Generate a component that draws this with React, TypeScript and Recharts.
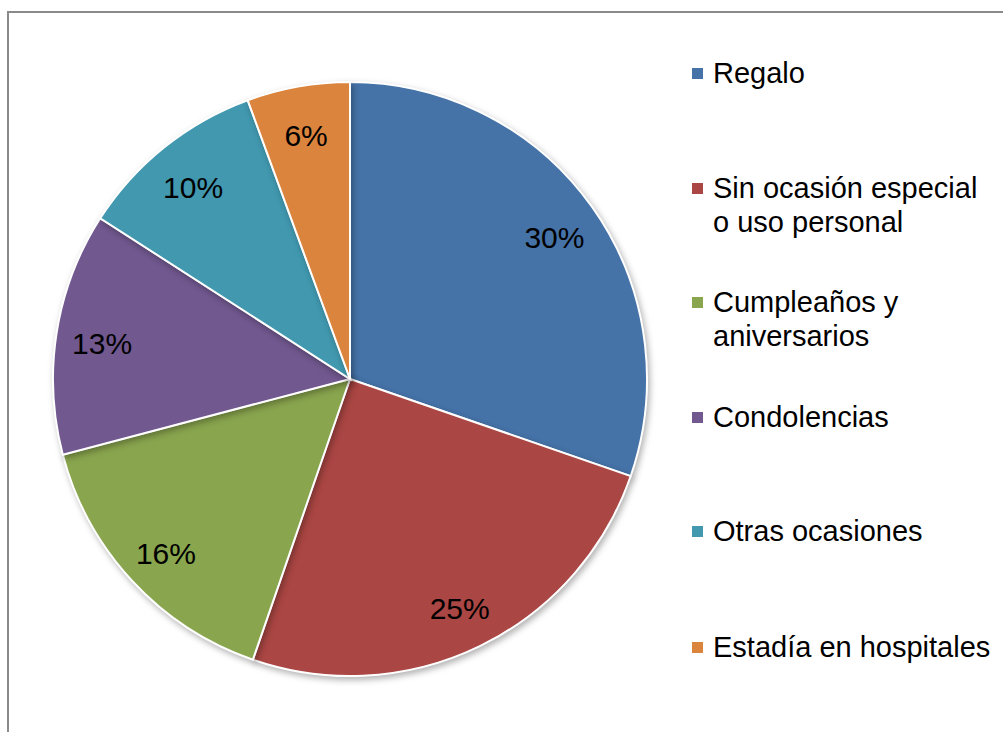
import { PieChart, Pie, Cell, Legend } from 'recharts';

const CATEGORIES = [
  'Regalo',
  'Sin ocasión especial o uso personal',
  'Cumpleaños y aniversarios',
  'Condolencias',
  'Otras ocasiones',
  'Estadía en hospitales',
];
const LEGEND_LINES = [
  ['Regalo'],
  ['Sin ocasión especial', 'o uso personal'],
  ['Cumpleaños y', 'aniversarios'],
  ['Condolencias'],
  ['Otras ocasiones'],
  ['Estadía en hospitales'],
];
const VALUES = [30.3, 25.0, 15.6, 13.2, 10.3, 5.6];
const COLORS = ['#4572a7', '#aa4643', '#89a54e', '#71588f', '#4198af', '#db843d'];

const data = CATEGORIES.map((name, i) => ({ name, value: VALUES[i] }));

const FONT = '"Liberation Sans", Arial, sans-serif';
const RAD = Math.PI / 180;

const renderLabel = (p: any) => {
  const r = 251;
  const x = p.cx + r * Math.cos(-p.midAngle * RAD);
  const y = p.cy + r * Math.sin(-p.midAngle * RAD) + 4;
  return (
    <text x={x} y={y} textAnchor="middle" dominantBaseline="central" fill="#000" fontSize={30} fontFamily={FONT}>
      {Math.round(p.value)}%
    </text>
  );
};

const LEGEND_TOPS = [56, 171, 285, 400, 514, 630];

const renderLegend = () => (
  <div style={{ position: 'relative', width: 310, height: 700, fontFamily: FONT, fontSize: 29, color: '#000' }}>
    {LEGEND_LINES.map((lines, i) => (
      <div key={i} style={{ position: 'absolute', left: 0, top: LEGEND_TOPS[i], lineHeight: '34px' }}>
        <span style={{ position: 'absolute', left: 0, top: 12, width: 11, height: 11, background: COLORS[i] }} />
        <div style={{ marginLeft: 21, whiteSpace: 'nowrap' }}>
          {lines.map((l, j) => (
            <div key={j}>{l}</div>
          ))}
        </div>
      </div>
    ))}
  </div>
);

export default function App() {
  return (
    <div style={{ position: 'absolute', left: 0, top: 0, width: 1003, height: 732, background: '#fff', overflow: 'hidden' }}>
      <div style={{ position: 'absolute', left: 7, top: 11, right: 0, bottom: 0, borderTop: '2px solid #8a8a8a', borderLeft: '2px solid #8a8a8a' }} />
      <div style={{ position: 'absolute', left: 0, top: 0 }}>
        <PieChart width={1003} height={732} margin={{ top: 0, right: 0, bottom: 0, left: 0 }}>
          <Pie
            data={data}
            dataKey="value"
            nameKey="name"
            cx={350}
            cy={379}
            outerRadius={297}
            startAngle={90}
            endAngle={-270}
            stroke="#fff"
            strokeWidth={2}
            label={renderLabel}
            labelLine={false}
            isAnimationActive={false}
            style={{ filter: 'drop-shadow(2px 3px 3px rgba(0,0,0,0.3))' }}
          >
            {data.map((_, i) => (
              <Cell key={i} fill={COLORS[i]} />
            ))}
          </Pie>
          <Legend
            content={renderLegend}
            wrapperStyle={{ position: 'absolute', left: 692, top: 0, width: 310, height: 700 }}
          />
        </PieChart>
      </div>
    </div>
  );
}
